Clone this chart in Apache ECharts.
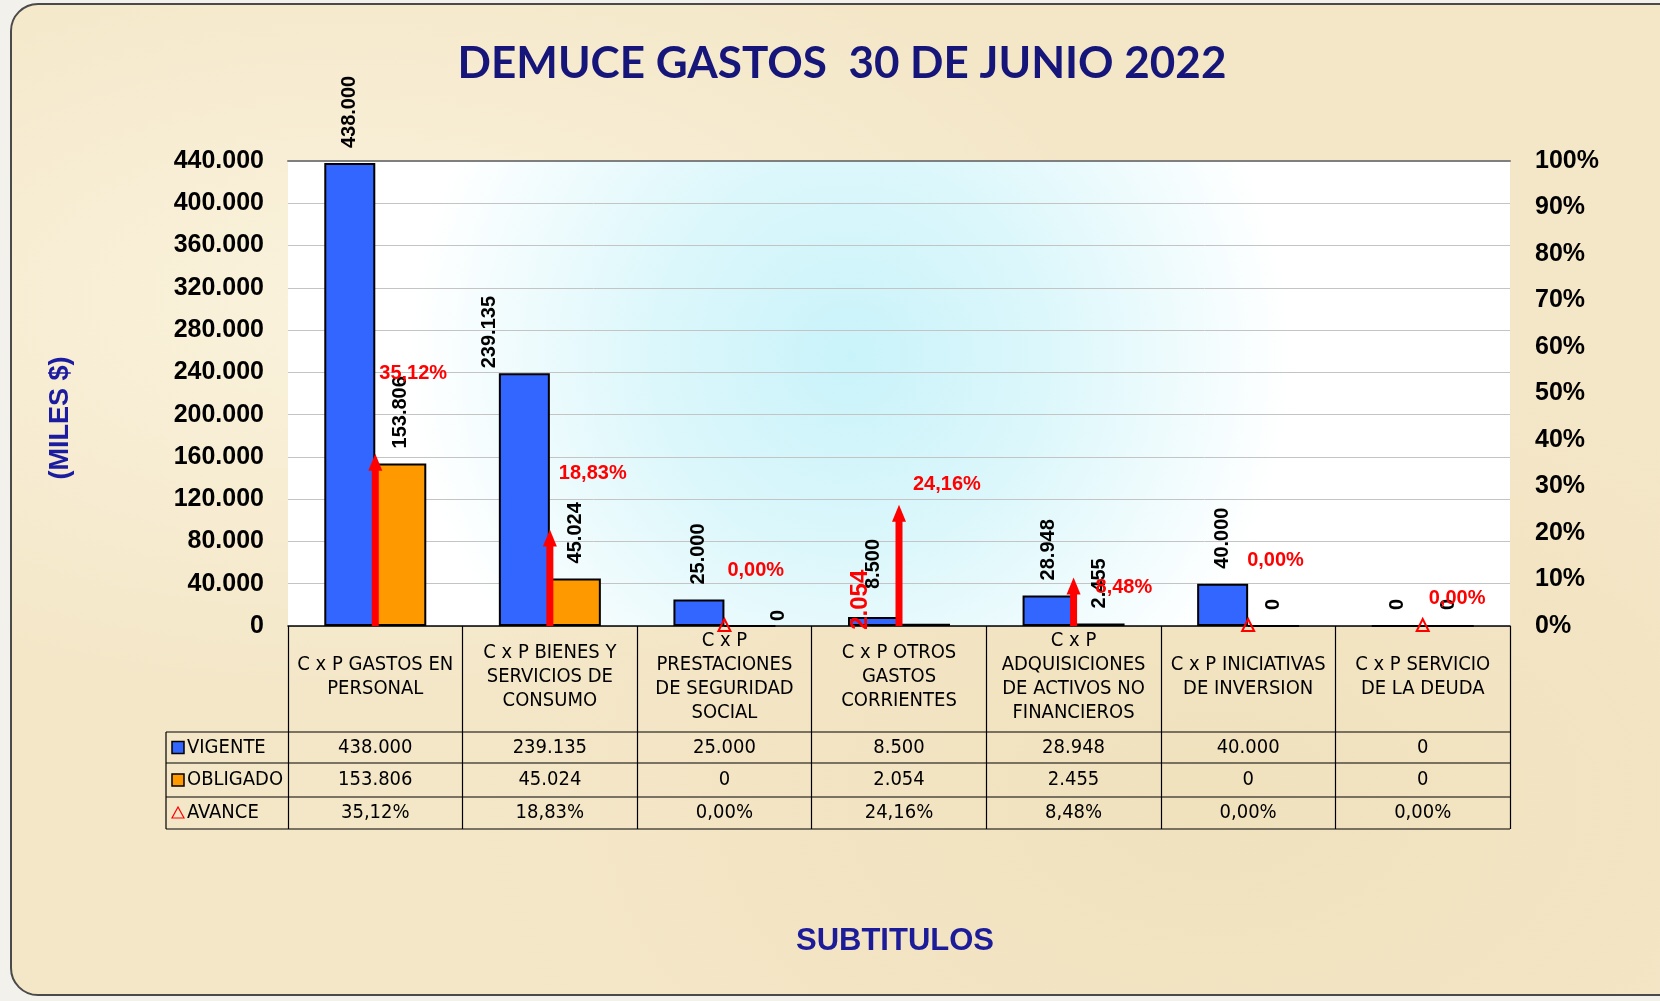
<!DOCTYPE html>
<html>
<head>
<meta charset="utf-8">
<script src="https://cdn.jsdelivr.net/npm/echarts@6/dist/echarts.min.js"></script>
<style>
  html, body { margin:0; padding:0; width:1660px; height:1001px; overflow:hidden; background:#f3f1ec; }
  #clip { position:absolute; left:0; top:0; width:1660px; height:1001px; overflow:hidden; }
  #frame { position:absolute; left:10px; top:3px; width:1720px; height:993px; box-sizing:border-box;
           border:2px solid #4a4a4a; border-radius:28px;
           background:
             radial-gradient(ellipse at 20% 30%, rgba(255,250,235,0.6), rgba(255,250,235,0) 40%),
             radial-gradient(ellipse at 70% 80%, rgba(235,215,170,0.35), rgba(235,215,170,0) 45%),
             #f4e7c8; }
  #chart { position:absolute; left:0; top:0; width:1660px; height:1001px; }
</style>
</head>
<body>
<div id="clip"><div id="frame"></div></div>
<div id="chart"></div>
<script>
// ---------- data ----------
const categories = [
  'C x P GASTOS EN\nPERSONAL',
  'C x P BIENES Y\nSERVICIOS DE\nCONSUMO',
  'C x P\nPRESTACIONES\nDE SEGURIDAD\nSOCIAL',
  'C x P OTROS\nGASTOS\nCORRIENTES',
  'C x P\nADQUISICIONES\nDE ACTIVOS NO\nFINANCIEROS',
  'C x P INICIATIVAS\nDE INVERSION',
  'C x P SERVICIO\nDE LA DEUDA'
];
const vigente  = [438000, 239135, 25000, 8500, 28948, 40000, 0];
const obligado = [153806, 45024, 0, 2054, 2455, 0, 0];
const avance   = [35.12, 18.83, 0.00, 24.16, 8.48, 0.00, 0.00];
const seriesNames = ['VIGENTE', 'OBLIGADO', 'AVANCE'];
const chartTitle = 'DEMUCE GASTOS  30 DE JUNIO 2022';
const yAxisTitle = '(MILES $)';
const xAxisTitle = 'SUBTITULOS';

// ---------- helpers ----------
const fmtNum = n => String(Math.round(n)).replace(/\B(?=(\d{3})+(?!\d))/g, '.');
const fmtPct = v => v.toFixed(2).replace('.', ',') + '%';

const NARROW = '"Liberation Sans Narrow", "Arial Narrow", "DejaVu Sans Condensed", sans-serif';
const ARIAL = '"Liberation Sans", Arial, sans-serif';
const BLUE = '#3366ff', ORANGE = '#ff9900', RED = '#ff0000';

// label placement tweaks (layout only)
const pctLabelOffset = [[4,-89],[9,-65],[3,-56],[14,-29],[22,1],[-1,-66],[6,-28]];

const G = { left: 288, right: 1660 - 1510, top: 161, bottom: 1001 - 626 };

const chart = echarts.init(document.getElementById('chart'), null, { renderer: 'canvas' });

const barLabel = {
  show: true, position: 'top', rotate: 90, align: 'left', verticalAlign: 'middle',
  distance: 15, fontFamily: ARIAL, fontWeight: 'bold', fontSize: 20, color: '#000',
  formatter: p => fmtNum(p.value)
};

const vigData = vigente.map((v, i) => {
  if (i === 1) return { value: v, label: { distance: 5, offset: [0, -35] } };
  if (i === 3) return { value: v, label: { distance: 28 } };
  return v;
});
const oblData = obligado.map((v, i) => {
  if (i === 2) return { value: v, label: { distance: 4, offset: [0, 29] } };
  if (i === 3) return { value: v, label: { distance: -6, offset: [0, -64], color: RED, fontSize: 24 } };
  return v;
});

function rowAxis(data, offset) {
  return {
    type: 'category', gridIndex: 0, position: 'bottom', offset: offset, data: data,
    axisLine: { show: false }, axisTick: { show: false }, splitLine: { show: false },
    axisLabel: { interval: 0, margin: 0, verticalAlign: 'middle', fontFamily: NARROW, fontSize: 20, color: '#000' }
  };
}

const option = {
  animation: false,
  backgroundColor: 'transparent',
  grid: {
    left: G.left, right: G.right, top: G.top, bottom: G.bottom, show: true, borderWidth: 0,
    backgroundColor: new echarts.graphic.RadialGradient(0.46, 0.42, 0.95, [
      { offset: 0, color: '#c9f3fa' },
      { offset: 0.45, color: '#dcf7fb' },
      { offset: 1, color: '#ffffff' }
    ])
  },
  xAxis: [
    {
      type: 'category', data: categories, position: 'bottom',
      axisLine: { show: true, lineStyle: { color: '#000', width: 1.5 } },
      axisTick: { show: true, length: 203, lineStyle: { color: '#000', width: 1.2 } },
      axisLabel: { interval: 0, margin: 51, verticalAlign: 'middle', lineHeight: 24,
                   fontFamily: NARROW, fontSize: 20, color: '#000' },
      splitLine: { show: false }
    },
    rowAxis(vigente.map(fmtNum), 121.5),
    rowAxis(obligado.map(fmtNum), 154),
    rowAxis(avance.map(fmtPct), 187),
    {
      type: 'category', data: categories, position: 'top',
      axisLine: { show: true, lineStyle: { color: '#7f7f7f', width: 2 } },
      axisTick: { show: false }, axisLabel: { show: false }
    }
  ],
  yAxis: [
    {
      type: 'value', min: 0, max: 440000, interval: 40000,
      axisLine: { show: false }, axisTick: { show: false },
      axisLabel: { margin: 24, fontFamily: ARIAL, fontWeight: 'bold', fontSize: 25, color: '#000',
                   formatter: v => fmtNum(v) },
      splitLine: { show: true, lineStyle: { color: '#c4c4c4', width: 1 } }
    },
    {
      type: 'value', min: 0, max: 100, interval: 10, position: 'right',
      axisLine: { show: false }, axisTick: { show: false },
      axisLabel: { margin: 25, fontFamily: ARIAL, fontWeight: 'bold', fontSize: 25, color: '#000',
                   formatter: v => v + '%' },
      splitLine: { show: false }
    }
  ],
  series: [
    {
      name: seriesNames[0], type: 'bar', xAxisIndex: 0, yAxisIndex: 0, data: vigData,
      barWidth: 51, barGap: '0%',
      itemStyle: { color: BLUE, borderColor: '#000', borderWidth: 2 },
      label: barLabel, z: 2
    },
    {
      name: seriesNames[1], type: 'bar', xAxisIndex: 0, yAxisIndex: 0, data: oblData,
      barWidth: 51, barGap: '0%',
      itemStyle: { color: ORANGE, borderColor: '#000', borderWidth: 2 },
      label: barLabel, z: 2
    },
    {
      name: seriesNames[2], type: 'custom', xAxisIndex: 0, yAxisIndex: 1, z: 5,
      data: avance.map((v, i) => [i, v]),
      encode: { x: 0, y: 1 },
      renderItem: function (params, api) {
        const i = api.value(0), v = api.value(1);
        const base = api.coord([i, 0]);
        const tip = api.coord([i, v]);
        const ch = [];
        if (v > 0) {
          ch.push({ type: 'line', shape: { x1: base[0], y1: base[1], x2: tip[0], y2: tip[1] + 4 },
                    style: { stroke: RED, lineWidth: 7 } });
          ch.push({ type: 'polygon', shape: { points: [[tip[0], tip[1] - 9], [tip[0] - 7, tip[1] + 8], [tip[0] + 7, tip[1] + 8]] },
                    style: { fill: RED } });
        } else {
          ch.push({ type: 'polygon', shape: { points: [[tip[0], tip[1] - 7], [tip[0] - 6, tip[1] + 5], [tip[0] + 6, tip[1] + 5]] },
                    style: { fill: 'rgba(255,255,255,0)', stroke: RED, lineWidth: 2 } });
        }
        const off = pctLabelOffset[i];
        ch.push({ type: 'text', x: tip[0] + off[0], y: tip[1] + off[1],
                  style: { text: fmtPct(v), fill: RED, font: 'bold 20px ' + ARIAL, align: 'left', verticalAlign: 'middle' } });
        return { type: 'group', children: ch };
      }
    }
  ]
};
chart.setOption(option);

// table frame + legend column + titles (layout decoration)
const rowY = [732, 763, 797, 829];
const gfx = [];
gfx.push({ type: 'text', x: 842, y: 64, style: { text: chartTitle, fill: '#15157a',
  font: 'bold 44px Lato, "Open Sans", sans-serif', align: 'center', verticalAlign: 'middle' } });
gfx.push({ type: 'text', x: 61, y: 418, rotation: Math.PI / 2, style: { text: yAxisTitle, fill: '#1c1ca0',
  font: 'bold 27px ' + ARIAL, align: 'center', verticalAlign: 'middle' } });
gfx.push({ type: 'text', x: 895, y: 941, style: { text: xAxisTitle, fill: '#1c1c9a',
  font: 'bold 31px ' + ARIAL, align: 'center', verticalAlign: 'middle' } });
rowY.forEach(y => gfx.push({ type: 'line', shape: { x1: 166, y1: y, x2: 1510, y2: y }, style: { stroke: '#000', lineWidth: 1.2 } }));
gfx.push({ type: 'line', shape: { x1: 166, y1: rowY[0], x2: 166, y2: rowY[3] }, style: { stroke: '#000', lineWidth: 1.2 } });
const rowMid = [0, 1, 2].map(k => (rowY[k] + rowY[k + 1]) / 2);
gfx.push({ type: 'rect', shape: { x: 172, y: rowMid[0] - 6, width: 12, height: 12 }, style: { fill: BLUE, stroke: '#000', lineWidth: 1.5 } });
gfx.push({ type: 'rect', shape: { x: 172, y: rowMid[1] - 6, width: 12, height: 12 }, style: { fill: ORANGE, stroke: '#000', lineWidth: 1.5 } });
gfx.push({ type: 'polygon', shape: { points: [[178, rowMid[2] - 6], [172, rowMid[2] + 5], [184, rowMid[2] + 5]] }, style: { fill: 'none', stroke: RED, lineWidth: 1.2 } });
seriesNames.forEach((n, k) => gfx.push({ type: 'text', x: 187, y: rowMid[k], style: { text: n, fill: '#000',
  font: '20px ' + NARROW, align: 'left', verticalAlign: 'middle' } }));
chart.setOption({ graphic: gfx });
</script>
</body>
</html>
